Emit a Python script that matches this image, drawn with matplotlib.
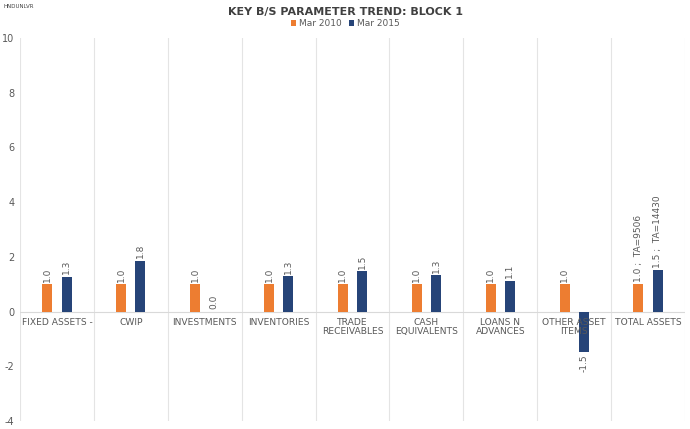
import numpy as np
import matplotlib
matplotlib.use('Agg')
import matplotlib.pyplot as plt

matplotlib.rcParams['axes.unicode_minus'] = False

categories = ['FIXED ASSETS -', 'CWIP', 'INVESTMENTS', 'INVENTORIES', 'TRADE\nRECEIVABLES',
              'CASH\nEQUIVALENTS', 'LOANS N\nADVANCES', 'OTHER ASSET\nITEMS', 'TOTAL ASSETS']
mar2010 = [1.0, 1.0, 1.0, 1.0, 1.0, 1.0, 1.0, 1.0, 1.0]
mar2015 = [1.28, 1.86, 0.0, 1.29, 1.48, 1.34, 1.13, -1.49, 1.52]
labels2010 = ['1.0'] * 8 + ['1.0 ;  TA=9506']
labels2015 = ['1.3', '1.8', '0.0', '1.3', '1.5', '1.3', '1.1', '-1.5', '1.5 ;  TA=14430']

c10 = '#ed7d31'
c15 = '#264478'
txt = '#595959'

fig = plt.figure(figsize=(6.9, 4.29), dpi=100)
ax = fig.add_axes([20 / 690, 8 / 429, 665 / 690, 383 / 429])

x = np.arange(len(categories))
w = 0.135
off = 0.13
ax.bar(x - off, mar2010, w, color=c10, label='Mar 2010', zorder=3)
ax.bar(x + off, mar2015, w, color=c15, label='Mar 2015', zorder=3)

for i in range(len(categories)):
    ax.text(x[i] - off, mar2010[i] + 0.08, labels2010[i], rotation=90, ha='center', va='bottom',
            fontsize=6.5, color=txt)
    v = mar2015[i]
    if v >= 0:
        ax.text(x[i] + off, v + 0.08, labels2015[i], rotation=90, ha='center', va='bottom',
                fontsize=6.5, color=txt)
    else:
        ax.text(x[i] + off, v - 0.08, labels2015[i], rotation=90, ha='center', va='top',
                fontsize=6.5, color=txt)
    ax.text(x[i], -0.22, categories[i], ha='center', va='top', fontsize=6.6, color=txt,
            linespacing=1.0, zorder=4)

ax.set_xlim(-0.5, len(categories) - 0.5)
ax.set_ylim(-4, 10)
ax.set_yticks(np.arange(-4, 11, 2))
ax.set_xticks([])
for b in np.arange(-0.5, len(categories), 1.0):
    ax.axvline(b, color='#e4e4e4', lw=0.8, zorder=1)
ax.axhline(0, color='#d9d9d9', lw=0.8, zorder=2)
for s in ax.spines.values():
    s.set_visible(False)
ax.tick_params(axis='y', length=0, labelsize=7, labelcolor=txt, pad=4)

fig.text(0.5, 1 - 12 / 429, 'KEY B/S PARAMETER TREND: BLOCK 1', ha='center', va='center',
         fontsize=8, fontweight='bold', color='#404040')
fig.text(4 / 690, 1 - 4 / 429, 'HNDUNLVR', ha='left', va='top', fontsize=4, color='#404040')

fig.legend(loc='center', bbox_to_anchor=(0.5, 1 - 24 / 429), ncol=2, frameon=False,
           fontsize=6.5, handlelength=0.6, handleheight=0.6, handletextpad=0.3, columnspacing=0.8,
           labelcolor=txt)

fig.savefig('out.png', dpi=100, facecolor='white')
